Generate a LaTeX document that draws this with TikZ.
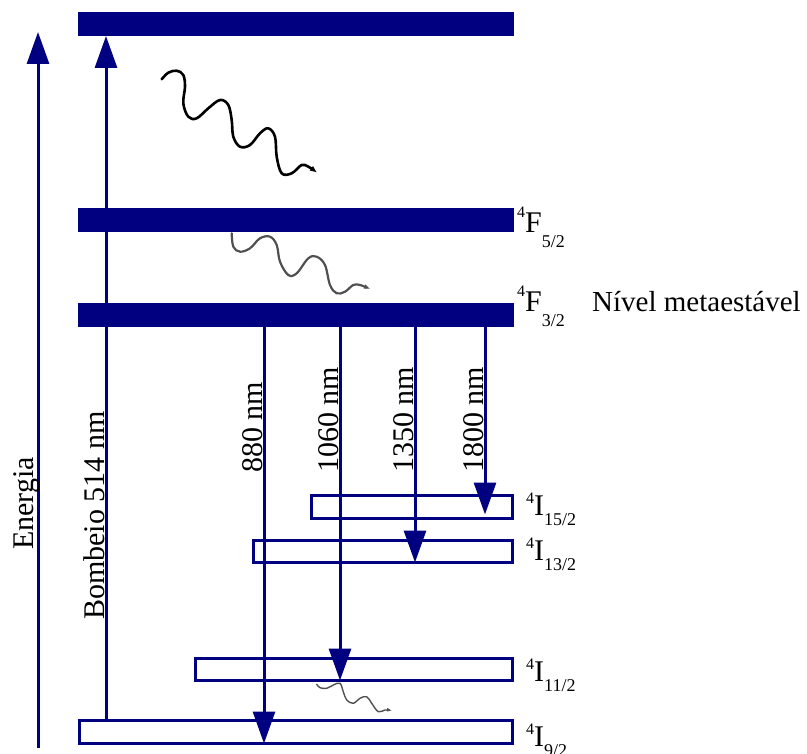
\documentclass[tikz,border=0pt]{standalone}
\usepackage{fontspec}
\setmainfont{Liberation Serif}
\usetikzlibrary{arrows.meta}
\definecolor{lvlblue}{RGB}{0,0,128}
\definecolor{wavegray}{RGB}{80,80,80}

% term symbols 4F_J and 4I_J
\newcommand{\termF}[1]{\raisebox{15pt}{\fontsize{16}{16}\selectfont 4}F\raisebox{-15pt}{\fontsize{18}{18}\selectfont #1}}
\newcommand{\termI}[1]{\raisebox{12pt}{\fontsize{16}{16}\selectfont 4}I\raisebox{-10pt}{\fontsize{18}{18}\selectfont #1}}

\begin{document}
\begin{tikzpicture}[x=1pt,y=-1pt,
  bar/.style={fill=lvlblue, inner sep=0pt, outer sep=0pt, anchor=north west,
              minimum width=436pt, minimum height=24pt},
  levbox/.style={draw=lvlblue, line width=3pt, inner sep=0pt, outer sep=0pt, anchor=north west},
  trans/.style={draw=lvlblue, line width=3pt, -{Triangle[length=32pt,width=22pt]}},
  rotlab/.style={font=\fontsize{30}{36}\selectfont, inner sep=0pt, rotate=90, anchor=base west},
  termlab/.style={font=\fontsize{30}{36}\selectfont, inner sep=0pt, anchor=base west},
  wave/.style={line cap=round, line join=round},
]
\useasboundingbox (0,0) rectangle (807,754);

% filled upper levels
\node[bar] (top) at (78,12) {};
\node[bar] (f52) at (78,208) {};
\node[bar] (f32) at (78,303) {};

% open lower levels
\node[levbox, minimum width=201pt, minimum height=23pt] (i152) at (311.5,495.5) {};
\node[levbox, minimum width=259pt, minimum height=22pt] (i132) at (253.5,540.5) {};
\node[levbox, minimum width=317pt, minimum height=22pt] (i112) at (195.5,658.5) {};
\node[levbox, minimum width=433pt, minimum height=23pt] (i92)  at (79.5,720.5) {};

% x positions of the vertical arrows
\coordinate (xen) at (38,0);
\coordinate (xpump) at (106,0);
\coordinate (x880) at (264,0);
\coordinate (x1060) at (340,0);
\coordinate (x1350) at (415,0);
\coordinate (x1800) at (485,0);
\coordinate (enbot) at (38,748);
\coordinate (entop) at (38,32);

% energy axis and pump
\draw[trans] (enbot) -- (entop);
\draw[trans] (i92.north -| xpump) -- (top.south -| xpump);

% emission lines
\draw[trans] (f32.south -| x880) -- (i92.south -| x880);
\draw[trans] (f32.south -| x1060) -- (i112.south -| x1060);
\draw[trans] (f32.south -| x1350) -- (i132.south -| x1350);
\draw[trans, shorten >=4pt] (f32.south -| x1800) -- (i152.south -| x1800);

% rotated labels
\node[rotlab] (len) at (34,550) {Energia};
\node[rotlab] (lpump) at (104.5,620) {Bombeio 514 nm};
\node[rotlab] (l880) at (262,473) {880 nm};
\node[rotlab] (l1060) at (338,473) {1060 nm};
\node[rotlab] (l1350) at (413,473) {1350 nm};
\node[rotlab] (l1800) at (483.5,473) {1800 nm};

% term symbols
\node[termlab] (tf52) at (517,233) {\termF{5/2}};
\node[termlab] (tf32) at (517,312) {\termF{3/2}};
\node[termlab, font=\fontsize{29}{34}\selectfont] (meta) at (592,312) {Nível metaestável};
\node[termlab] (ti152) at (526,515) {\termI{15/2}};
\node[termlab] (ti132) at (526,560) {\termI{13/2}};
\node[termlab] (ti112) at (526,681) {\termI{11/2}};
\node[termlab] (ti92)  at (526,746) {\termI{9/2}};

% non-radiative decays
\draw[wave, line width=2.6pt, black, -{Latex[length=7pt,width=6pt]}]
  plot[smooth, tension=0.6] coordinates {
  (161.7,79.3) (168.3,72.7) (176.7,70.7) (183.3,75) (185,86.7) (183.3,103.3)
  (188.3,116.7) (196.7,118.3) (208.3,108.3) (220,100) (228.3,105) (231.7,120)
  (233.3,136.7) (240,146.7) (250,145) (260,133.3) (268.3,128.3) (275,136.7)
  (276.7,156.7) (281.7,173.3) (291.7,173.3) (301.7,165) (308.3,166.7) (317,172.5)};

\draw[wave, line width=2.2pt, wavegray, -{Latex[length=6pt,width=5pt]}]
  plot[smooth, tension=0.6] coordinates {
  (231.7,233.3) (233.3,246.7) (240,251.7) (250,248.3) (260,238.3) (270,236.7)
  (276.7,245) (280,261.7) (288.3,275) (296.7,273.3) (308.3,258.3) (316.7,256.7)
  (325,265) (330,285) (336.7,293.3) (345,291.7) (353.3,285) (360,285) (370,289)};

\draw[wave, line width=1.4pt, wavegray, -{Latex[length=5pt,width=4pt]}]
  plot[smooth, tension=0.6] coordinates {
  (316.7,684.3) (320,687.7) (326.7,688.3) (333.3,685) (340,683.3) (343.3,691.7)
  (346.7,700) (353.3,703.3) (360,698.3) (366.7,696.7) (371.7,703.3) (378.3,711.7)
  (385,710) (392,710.5)};
\end{tikzpicture}
\end{document}
